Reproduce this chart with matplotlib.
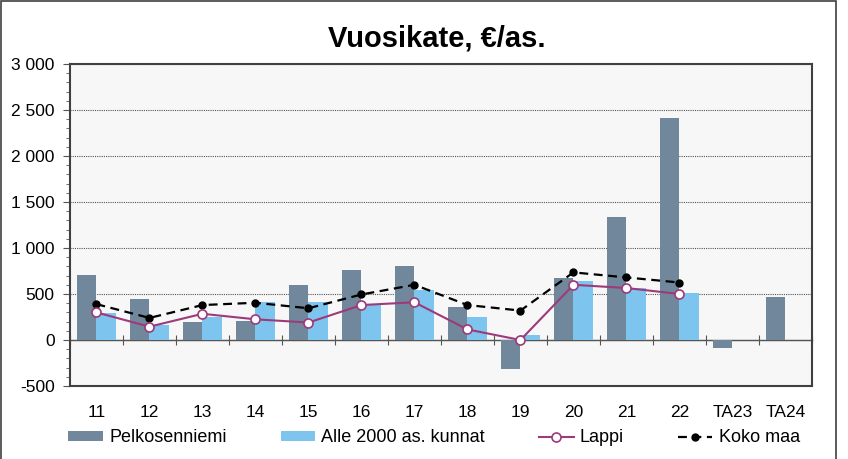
import numpy as np
import matplotlib.pyplot as plt
from matplotlib.patches import Rectangle

plt.rcParams['font.family'] = ['Liberation Sans', 'DejaVu Sans']

categories = ["11", "12", "13", "14", "15", "16", "17", "18", "19", "20", "21", "22", "TA23", "TA24"]
pelkosenniemi = [710, 450, 195, 210, 600, 760, 800, 360, -310, 670, 1335, 2410, -85, 470]
alle2000 = [290, 165, 245, 410, 410, 380, 545, 245, 55, 640, 560, 515, np.nan, np.nan]
lappi = [300, 145, 285, 225, 190, 380, 410, 115, 0, 600, 565, 500, np.nan, np.nan]
koko_maa = [390, 240, 380, 405, 345, 495, 600, 380, 320, 735, 680, 625, np.nan, np.nan]

x = np.arange(len(categories))
w = 0.37

fig = plt.figure(figsize=(8.48, 4.59), dpi=100)
ax = fig.add_axes([0.0825, 0.159, 0.875, 0.7016])
ax.set_facecolor('#f7f7f7')

b1 = ax.bar(x - w/2, pelkosenniemi, w, color='#71879b', label='Pelkosenniemi', zorder=2)
b2 = ax.bar(x + w/2, alle2000, w, color='#7dc5ee', label='Alle 2000 as. kunnat', zorder=2)
l1, = ax.plot(x, lappi, color='#9c3a7a', lw=1.5, marker='o', ms=6.5, mfc='white', mec='#9c3a7a',
              mew=1.2, label='Lappi', zorder=4)
l2, = ax.plot(x, koko_maa, color='black', lw=1.6, ls=(0, (4, 2.5)), marker='o', ms=5, mfc='black',
              mec='black', label='Koko maa', zorder=3)

ax.set_xlim(-0.5, len(categories) - 0.5)
ax.set_ylim(-500, 3000)
ax.set_yticks(np.arange(-500, 3001, 500))
ax.set_yticks(np.arange(-500, 3001, 100), minor=True)
ax.set_yticklabels([f"{v:,}".replace(",", " ") for v in range(-500, 3001, 500)], fontsize=12.5)
ax.yaxis.grid(True, which='major', color='#555555', ls=(0, (1, 1)), lw=0.8, zorder=1)
ax.tick_params(axis='y', which='major', length=5, color='#555555', pad=6)
ax.tick_params(axis='y', which='minor', length=3, color='#555555')

ax.set_xticks(x)
ax.set_xticklabels(categories, fontsize=12.5)
ax.tick_params(axis='x', length=0, pad=14)

for s in ax.spines.values():
    s.set_color('#404040')
    s.set_linewidth(1.5)

# zero line with category boundary ticks
ylo, yhi = ax.get_ylim()
zero = ax.secondary_xaxis((0 - ylo) / (yhi - ylo))
zero.set_xticks(np.arange(-0.5, len(categories) - 0.4, 1.0))
zero.tick_params(axis='x', direction='inout', length=7, labelbottom=False, color='#555555')
zero.spines['bottom'].set_color('#555555')
zero.spines['bottom'].set_linewidth(1.0)

fig.suptitle('Vuosikate, €/as.', x=0.515, y=0.917, va='center', fontsize=21, fontweight='bold')

fig.legend([b1, b2, l1, l2], ['Pelkosenniemi', 'Alle 2000 as. kunnat', 'Lappi', 'Koko maa'],
           loc='center', bbox_to_anchor=(0.512, 0.046), ncol=4, frameon=False, fontsize=13,
           handlelength=1.9, handleheight=0.5, handletextpad=0.35, columnspacing=3.0)

fig.patches.append(Rectangle((0.001, -0.01), 0.985, 1.008, transform=fig.transFigure,
                             fill=False, edgecolor='#404040', lw=1.2))

fig.savefig('out.png', dpi=100)
